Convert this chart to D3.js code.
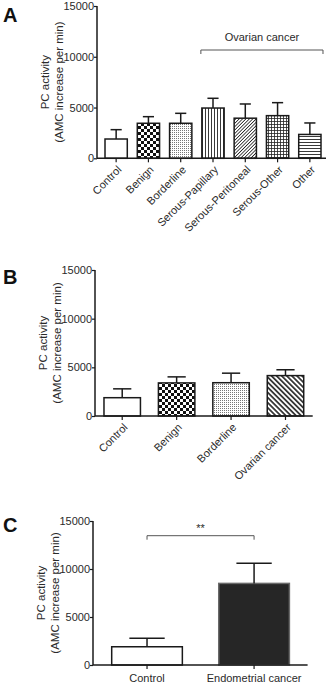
<!DOCTYPE html>
<html lang="en">
<head>
<meta charset="UTF-8">
<script src="https://cdn.jsdelivr.net/npm/d3@7"></script>
<style>
  html, body { margin: 0; padding: 0; background: #fff; }
  svg { display: block; font-family: "Liberation Sans", Arial, sans-serif; }
</style>
</head>
<body>
<div id="container"></div>
<script>
// data
var yTicks = [0, 5000, 10000, 15000];

var catsA = ["Control", "Benign", "Borderline", "Serous-Papillary", "Serous-Peritoneal", "Serous-Other", "Other"];
var meanA = [1900, 3450, 3450, 4950, 3950, 4200, 2350];
var semA  = [920, 650, 980, 960, 1400, 1280, 1130];
var fillA = ["white", "checker", "dots", "vlines", "diag", "grid", "hlines"];

var catsB = ["Control", "Benign", "Borderline", "Ovarian cancer"];
var meanB = [1880, 3400, 3420, 4150];
var semB  = [910, 620, 980, 600];
var fillB = ["white", "checker", "dots", "diagB"];

var catsC = ["Control", "Endometrial cancer"];
var meanC = [1900, 8500];
var semC  = [880, 2100];
var fillC = ["white", "dark"];

var width = 329, height = 684;
var svg = d3.select("#container").append("svg").attr("width", width).attr("height", height);

// fill patterns
var defs = svg.append("defs");
function pat(id, w, h, tr) {
  var p = defs.append("pattern").attr("id", id).attr("patternUnits", "userSpaceOnUse")
    .attr("width", w).attr("height", h);
  if (tr) p.attr("patternTransform", tr);
  p.append("rect").attr("width", w).attr("height", h).attr("fill", "#fff");
  return p;
}
var p;
p = pat("checker", 6, 6);
p.append("rect").attr("width", 3).attr("height", 3).attr("fill", "#111");
p.append("rect").attr("x", 3).attr("y", 3).attr("width", 3).attr("height", 3).attr("fill", "#111");
p = pat("dots", 2, 2);
p.append("rect").attr("width", 1).attr("height", 1).attr("fill", "#777");
p = pat("vlines", 3, 3);
p.append("line").attr("x1", 1.5).attr("x2", 1.5).attr("y1", 0).attr("y2", 3).attr("stroke", "#222").attr("stroke-width", 0.9);
p = pat("hlines", 3, 3);
p.append("line").attr("y1", 1.5).attr("y2", 1.5).attr("x1", 0).attr("x2", 3).attr("stroke", "#222").attr("stroke-width", 0.9);
p = pat("grid", 3, 3);
p.append("line").attr("x1", 1.5).attr("x2", 1.5).attr("y1", 0).attr("y2", 3).attr("stroke", "#222").attr("stroke-width", 0.8);
p.append("line").attr("y1", 1.5).attr("y2", 1.5).attr("x1", 0).attr("x2", 3).attr("stroke", "#222").attr("stroke-width", 0.8);
p = pat("diag", 2.4, 2.4, "rotate(45)");
p.append("line").attr("x1", 1.2).attr("x2", 1.2).attr("y1", 0).attr("y2", 2.4).attr("stroke", "#222").attr("stroke-width", 0.8);
p = pat("diagB", 3.6, 3.6, "rotate(-45)");
p.append("line").attr("x1", 1.8).attr("x2", 1.8).attr("y1", 0).attr("y2", 3.6).attr("stroke", "#111").attr("stroke-width", 1.5);

function fillOf(f) {
  if (f === "white") return "#fff";
  if (f === "dark") return "#262626";
  return "url(#" + f + ")";
}

function panel(o) {
  var g = svg.append("g");
  var y = d3.scaleLinear().domain([0, 15000]).range([o.y0, o.y1]);
  var x = d3.scaleBand().domain(o.cats).range([o.bx0, o.xEnd]).paddingInner(o.pad).paddingOuter(o.pad / 2);

  // bars
  g.selectAll("rect.bar").data(o.cats).enter().append("rect")
    .attr("x", function(d) { return x(d); })
    .attr("y", function(d, i) { return y(o.mean[i]); })
    .attr("width", x.bandwidth())
    .attr("height", function(d, i) { return y(0) - y(o.mean[i]); })
    .attr("fill", function(d, i) { return fillOf(o.fill[i]); })
    .attr("stroke", function(d, i) { return o.fill[i] === "dark" ? "#6a6a6a" : "#1a1a1a"; })
    .attr("stroke-width", 1.5);

  // error bars (upper only)
  var eb = g.selectAll("g.err").data(o.cats).enter().append("g").attr("fill", "none").attr("stroke", "#1a1a1a").attr("stroke-width", 1.5);
  eb.append("line")
    .attr("x1", function(d) { return x(d) + x.bandwidth() / 2; })
    .attr("x2", function(d) { return x(d) + x.bandwidth() / 2; })
    .attr("y1", function(d, i) { return y(o.mean[i]); })
    .attr("y2", function(d, i) { return y(o.mean[i] + o.sem[i]); });
  eb.append("line")
    .attr("x1", function(d) { return x(d) + x.bandwidth() / 4; })
    .attr("x2", function(d) { return x(d) + x.bandwidth() * 3 / 4; })
    .attr("y1", function(d, i) { return y(o.mean[i] + o.sem[i]); })
    .attr("y2", function(d, i) { return y(o.mean[i] + o.sem[i]); });

  // y axis
  var ya = g.append("g").attr("transform", "translate(" + o.ax + ",0)")
    .call(d3.axisLeft(y).tickValues(yTicks).tickFormat(d3.format("d")).tickSize(3).tickPadding(0));
  ya.select(".domain").attr("d", "M0," + o.y0 + "V" + o.y1).attr("stroke", "#1a1a1a").attr("stroke-width", 1.5);
  ya.selectAll(".tick line").attr("stroke", "#1a1a1a").attr("stroke-width", 1.2);
  ya.selectAll(".tick text").attr("font-size", 11).attr("fill", "#2a2a2a").attr("font-family", null);

  // x axis
  var xa = g.append("g").attr("transform", "translate(0," + o.y0 + ")")
    .call(d3.axisBottom(x).tickSize(4).tickSizeOuter(0));
  xa.select(".domain").attr("d", "M" + o.ax + ",0H" + o.xEnd).attr("stroke", "#1a1a1a").attr("stroke-width", 1.5);
  xa.selectAll(".tick line").attr("stroke", "#1a1a1a").attr("stroke-width", 1.2);
  var tt = xa.selectAll(".tick text").attr("font-size", 11).attr("fill", "#2a2a2a").attr("font-family", null);
  if (o.rotate) {
    tt.attr("text-anchor", "end").attr("dy", null).attr("y", 0)
      .attr("transform", "translate(6,12) rotate(-45)");
  } else {
    tt.attr("dy", null).attr("y", 17);
  }

  // y title
  var cy = (o.y0 + o.y1) / 2;
  g.append("text").attr("transform", "translate(" + (o.ax - 48) + "," + cy + ") rotate(-90)")
    .attr("text-anchor", "middle").attr("font-size", 11.5).attr("fill", "#2a2a2a").text("PC activity");
  g.append("text").attr("transform", "translate(" + (o.ax - 34) + "," + cy + ") rotate(-90)")
    .attr("text-anchor", "middle").attr("font-size", 11.5).attr("fill", "#2a2a2a").text("(AMC increase per min)");

  // panel letter
  g.append("text").attr("x", 3).attr("y", o.y1 + o.letterDy).attr("font-size", 20).attr("font-weight", "bold")
    .attr("fill", "#111").text(o.letter);
  return { g: g, x: x, y: y };
}

var A = panel({ cats: catsA, mean: meanA, sem: semA, fill: fillA, y0: 158.3, y1: 6, ax: 97, bx0: 100, xEnd: 326, pad: 0.31, rotate: true, letter: "A", letterDy: 16 });
var B = panel({ cats: catsB, mean: meanB, sem: semB, fill: fillB, y0: 416, y1: 270, ax: 95, bx0: 95, xEnd: 312.7, pad: 0.33, rotate: true, letter: "B", letterDy: 14 });
var C = panel({ cats: catsC, mean: meanC, sem: semC, fill: fillC, y0: 665, y1: 521, ax: 93, bx0: 93.5, xEnd: 307.6, pad: 0.34, rotate: false, letter: "C", letterDy: 11 });

// bracket helper
function bracket(g, x1, x2, yb, label, ty, fs) {
  g.append("path").attr("d", "M" + x1 + "," + (yb + 4) + "V" + yb + "H" + x2 + "V" + (yb + 4))
    .attr("fill", "none").attr("stroke", "#555").attr("stroke-width", 1);
  g.append("text").attr("x", (x1 + x2) / 2).attr("y", ty).attr("text-anchor", "middle")
    .attr("font-size", fs).attr("fill", "#2a2a2a").text(label);
}
// Ovarian cancer spans Serous-Papillary .. Other
bracket(A.g, A.x("Serous-Papillary") - 1, A.x("Other") + A.x.bandwidth() + 2, 50, "Ovarian cancer", 41, 11);
bracket(C.g, C.x("Control") + C.x.bandwidth() / 2, C.x("Endometrial cancer") + C.x.bandwidth() / 2, 535.7, "**", 532, 11);
</script>
</body>
</html>
